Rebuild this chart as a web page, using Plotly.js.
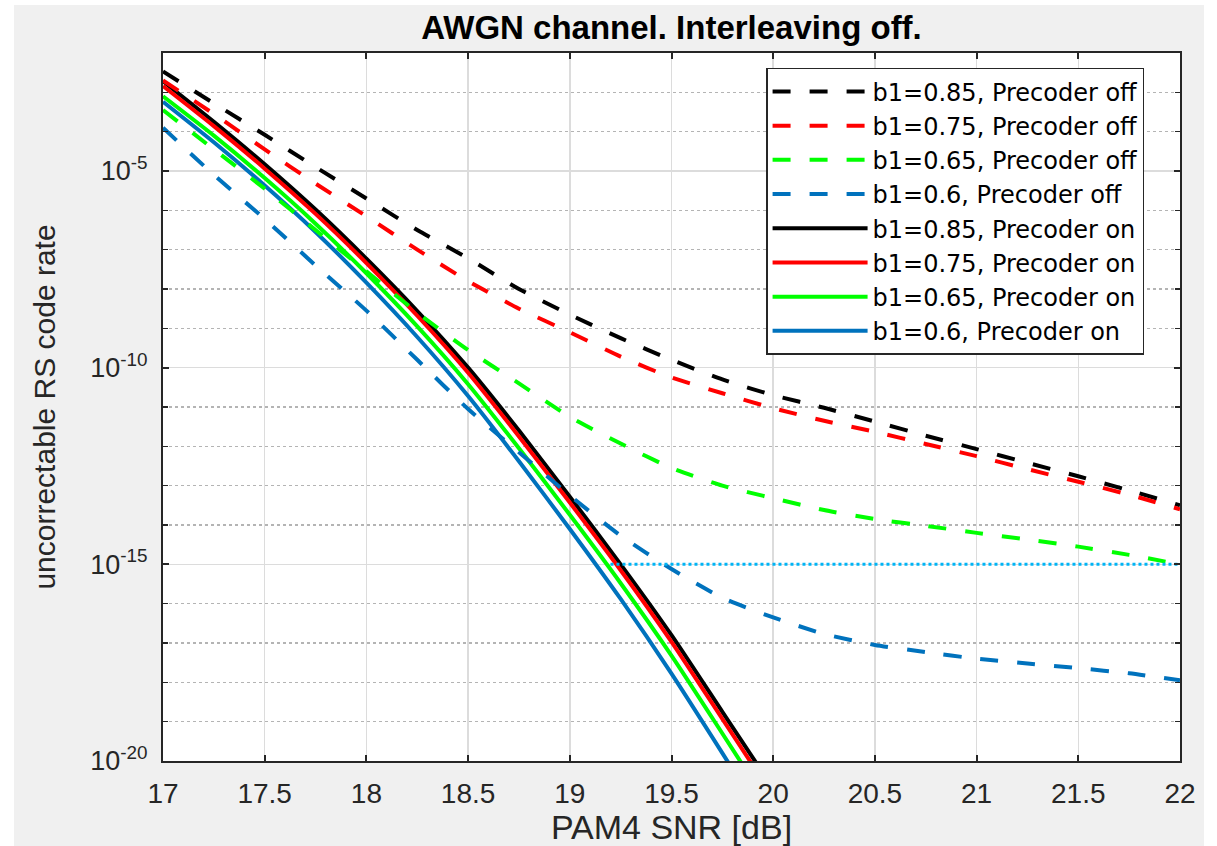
<!DOCTYPE html>
<html><head><meta charset="utf-8">
<script src="https://cdn.plot.ly/plotly-3.0.1.min.js"></script>
<style>html,body{margin:0;padding:0;background:#fff}#chart{width:1217px;height:846px}</style>
</head><body><div id="chart"></div>
<script>
// SNR grid (dB)
const snrDashed = [17,17.25,17.5,17.75,18,18.25,18.5,18.75,19,19.25,19.5,19.75,20,20.25,20.5,20.75,21,21.25,21.5,21.75,22];
const snrSolid  = [17,17.25,17.5,17.75,18,18.25,18.5,18.75,19,19.25,19.5,19.75,20];

// log10 of uncorrectable RS code rate
const logOff085 = [-2.47,-3.28,-4.08,-4.90,-5.70,-6.50,-7.22,-8.00,-8.65,-9.25,-9.80,-10.30,-10.70,-11.02,-11.37,-11.73,-12.07,-12.42,-12.76,-13.12,-13.50];
const logOff075 = [-2.70,-3.55,-4.45,-5.32,-6.15,-7.00,-7.80,-8.50,-9.10,-9.72,-10.25,-10.65,-11.03,-11.35,-11.63,-11.94,-12.25,-12.58,-12.90,-13.23,-13.60];
const logOff065 = [-3.45,-4.45,-5.45,-6.50,-7.55,-8.60,-9.55,-10.40,-11.25,-11.93,-12.55,-13.00,-13.32,-13.62,-13.85,-14.02,-14.20,-14.37,-14.55,-14.76,-15.00];
const logOff060 = [-3.90,-5.10,-6.22,-7.40,-8.55,-9.80,-11.05,-12.15,-13.25,-14.27,-15.12,-15.85,-16.35,-16.77,-17.05,-17.23,-17.40,-17.52,-17.64,-17.77,-17.95];

const logOn085 = [-2.72,-3.75,-4.83,-5.98,-7.23,-8.56,-10.00,-11.60,-13.28,-15.00,-16.80,-18.75,-20.70];
const logOn075 = [-2.84,-3.86,-4.94,-6.09,-7.34,-8.68,-10.13,-11.75,-13.43,-15.15,-16.97,-18.93,-20.90];
const logOn065 = [-3.10,-4.10,-5.18,-6.34,-7.60,-8.95,-10.42,-12.05,-13.74,-15.48,-17.32,-19.30,-21.30];
const logOn060 = [-3.24,-4.27,-5.37,-6.55,-7.84,-9.22,-10.72,-12.38,-14.10,-15.88,-17.78,-19.80,-21.85];

// target line
const targetX = [19.2, 22];
const targetY = [1e-15, 1e-15];

const legendNames = ['b1=0.85, Precoder off','b1=0.75, Precoder off','b1=0.65, Precoder off','b1=0.6, Precoder off',
                     'b1=0.85, Precoder on','b1=0.75, Precoder on','b1=0.65, Precoder on','b1=0.6, Precoder on'];
const yTickVals = [1e-20,1e-15,1e-10,1e-5];
const yTickText = ['10<sup>-20</sup>','10<sup>-15</sup>','10<sup>-10</sup>','10<sup>-5</sup>'];
const xTickVals = [17,17.5,18,18.5,19,19.5,20,20.5,21,21.5,22];
const xTickText = ['17','17.5','18','18.5','19','19.5','20','20.5','21','21.5','22'];

const colors = ['#000000','#ff0000','#00ff00','#0072bd'];
const toVal = a => a.map(v => Math.pow(10, v));

const offSeries = [logOff085, logOff075, logOff065, logOff060];
const onSeries  = [logOn085, logOn075, logOn065, logOn060];

const traces = [];
onSeries.forEach((s, i) => {
  traces.push({x: snrSolid, y: toVal(s), type: 'scatter', mode: 'lines', name: legendNames[4+i], legendrank: 5+i,
    line: {color: colors[i], width: 4, shape: 'spline', smoothing: 0.6}});
});
offSeries.forEach((s, i) => {
  traces.push({x: snrDashed, y: toVal(s), type: 'scatter', mode: 'lines', name: legendNames[i], legendrank: 1+i,
    line: {color: colors[i], width: 4, dash: '18px,19px', shape: 'spline', smoothing: 0.6}});
});
traces.push({x: targetX, y: targetY, type: 'scatter', mode: 'lines', showlegend: false, hoverinfo: 'skip',
  line: {color: '#00b4f5', width: 3, dash: 'dot'}});

const axisColor = '#262626';
const layout = {
  width: 1217, height: 846,
  paper_bgcolor: '#f0f0f0', plot_bgcolor: '#ffffff',
  margin: {l: 163, r: 37, t: 53, b: 85, pad: 0},
  font: {family: 'Liberation Sans, Arial, sans-serif', color: axisColor},
  title: {text: '<b>AWGN channel. Interleaving off.</b>', x: 0.5, xref: 'paper', y: 0.967, yanchor: 'middle',
    font: {family: 'Liberation Sans, Arial, sans-serif', size: 33, color: '#000'}},
  xaxis: {
    range: [17, 22], tickvals: xTickVals, ticktext: xTickText,
    showline: true, linecolor: axisColor, linewidth: 2, mirror: 'ticks',
    ticks: 'inside', ticklen: 6, tickwidth: 2, tickcolor: axisColor,
    showgrid: true, gridcolor: '#dcdcdc', gridwidth: 1.5, zeroline: false,
    tickfont: {size: 28, color: axisColor}, ticklabelstandoff: 6,
    title: {text: 'PAM4 SNR [dB]', font: {size: 34, color: axisColor}, standoff: 12}
  },
  yaxis: {
    type: 'log', range: [-20, -2], tickvals: yTickVals, ticktext: yTickText,
    showline: true, linecolor: axisColor, linewidth: 2, mirror: 'ticks',
    ticks: 'inside', ticklen: 6, tickwidth: 2, tickcolor: axisColor,
    showgrid: true, gridcolor: '#dcdcdc', gridwidth: 1.5, zeroline: false,
    minor: {dtick: 1, ticks: 'inside', ticklen: 5, tickcolor: axisColor, tickwidth: 1.5,
            showgrid: true, gridcolor: '#b4b4b4', griddash: 'dot', gridwidth: 1.2},
    tickfont: {size: 27, color: axisColor}, ticklabelstandoff: 8,
    title: {text: 'uncorrectable RS code rate', font: {size: 30, color: axisColor}, standoff: 26}
  },
  legend: {x: 0.593, y: 0.979, xanchor: 'left', yanchor: 'top', bgcolor: '#ffffff',
    bordercolor: axisColor, borderwidth: 1.5, itemwidth: 95, traceorder: 'normal',
    font: {family: 'DejaVu Sans, sans-serif', size: 24, color: '#000'}},
  shapes: [
    {type: 'rect', xref: 'paper', yref: 'paper', x0: -0.1603, x1: -0.1465, y0: -0.125, y1: 1.08, fillcolor: '#ffffff', line: {width: 0}, layer: 'below'},
    {type: 'rect', xref: 'paper', yref: 'paper', x0: 1.0236, x1: 1.04, y0: -0.125, y1: 1.08, fillcolor: '#ffffff', line: {width: 0}, layer: 'below'},
    {type: 'rect', xref: 'paper', yref: 'paper', x0: -0.1603, x1: 1.04, y0: 1.0678, y1: 1.08, fillcolor: '#ffffff', line: {width: 0}, layer: 'below'}
  ],
  showlegend: true
};

Plotly.newPlot('chart', traces, layout, {displayModeBar: false, staticPlot: true});
</script>
</body></html>
